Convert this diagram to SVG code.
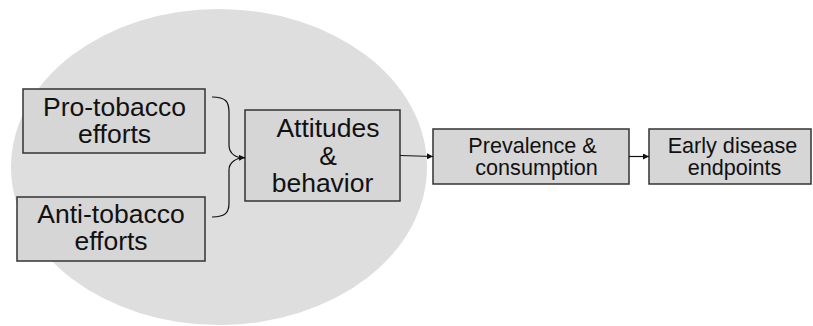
<svg xmlns="http://www.w3.org/2000/svg" width="813" height="326" viewBox="0 0 813 326">
<defs>
<style>
.box{fill:#d6d6d6;stroke:#333;stroke-width:1.5}
.t{font-family:"Liberation Sans",Arial,sans-serif;fill:#111;text-anchor:middle}
.big{font-size:26.5px}
.small{font-size:21.6px}
.c{fill:none;stroke:#111;stroke-width:1.2}
</style>
<marker id="ah" viewBox="0 0 10 10" refX="10" refY="5" markerWidth="6" markerHeight="6" orient="auto" markerUnits="userSpaceOnUse">
<path d="M0,0 L10,5 L0,10 z" fill="#111"/>
</marker>
</defs>
<rect width="813" height="326" fill="#fff"/>
<ellipse id="scope" cx="219" cy="167" rx="208" ry="158" fill="#dedede"/>
<g id="pro">
<rect class="box" x="23" y="89" width="182" height="64"/>
<text class="t big" x="114.5" y="116">Pro-tobacco</text>
<text class="t big" x="114.5" y="143">efforts</text>
</g>
<g id="anti">
<rect class="box" x="17" y="197" width="188" height="64"/>
<text class="t big" x="111" y="223">Anti-tobacco</text>
<text class="t big" x="111" y="250">efforts</text>
</g>
<g id="attitudes">
<rect class="box" x="245" y="110" width="155" height="91"/>
<text class="t big" x="328" y="137">Attitudes</text>
<text class="t big" x="328" y="165">&amp;</text>
<text class="t big" x="322.5" y="192">behavior</text>
</g>
<g id="prevalence">
<rect class="box" x="433" y="129" width="196" height="55"/>
<text class="t small" x="532.5" y="152.5">Prevalence &amp;</text>
<text class="t small" x="536.5" y="175">consumption</text>
</g>
<g id="early">
<rect class="box" x="649" y="129" width="162" height="55"/>
<text class="t small" x="732.5" y="152.5">Early disease</text>
<text class="t small" x="734.5" y="175">endpoints</text>
</g>
<g id="connectors">
<path class="c" d="M212,97 C226,97 229,102 229,112 L229,145 C229,154 236,158 245,158"/>
<path class="c" d="M212,217 C226,217 229,212 229,203 L229,170 C229,162 236,158 245,157.5" marker-end="url(#ah)"/>
<path class="c" d="M400,155.5 L433,156.5" marker-end="url(#ah)"/>
<path class="c" d="M629,156.5 L649,156.5" marker-end="url(#ah)"/>
</g>
</svg>
